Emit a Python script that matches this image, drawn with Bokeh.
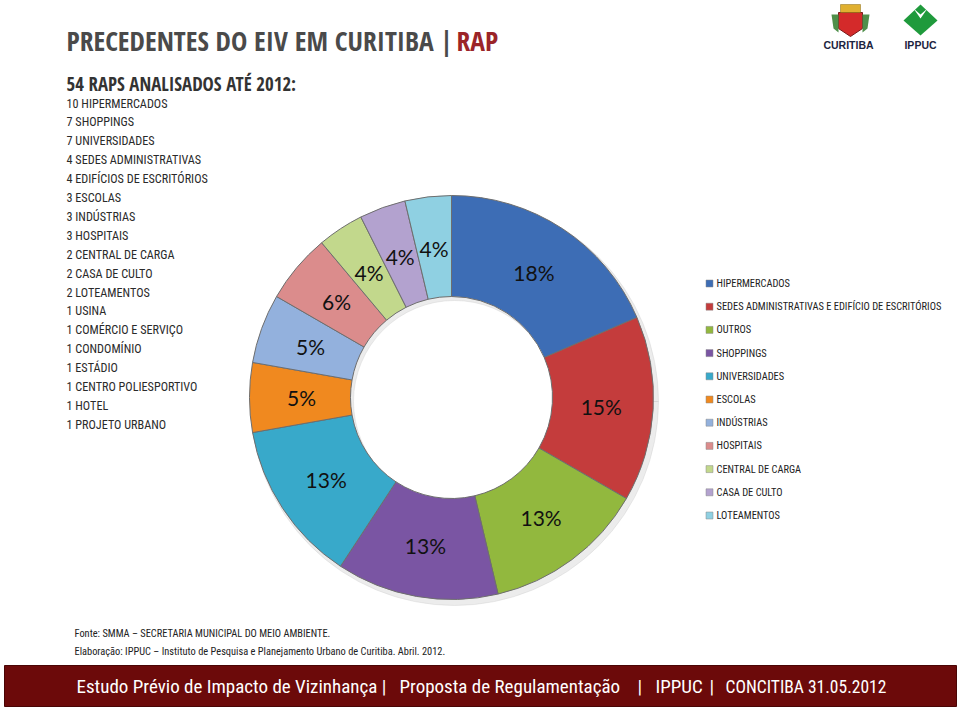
import math
from bokeh.plotting import figure
from bokeh.models import Range1d, ColumnDataSource
from bokeh.core.properties import value
from bokeh.embed import file_html
from bokeh.resources import INLINE

# ---------------- data ----------------
categories = ["HIPERMERCADOS", "SEDES ADMINISTRATIVAS E EDIFÍCIO DE ESCRITÓRIOS", "OUTROS",
              "SHOPPINGS", "UNIVERSIDADES", "ESCOLAS", "INDÚSTRIAS", "HOSPITAIS",
              "CENTRAL DE CARGA", "CASA DE CULTO", "LOTEAMENTOS"]
counts = [10, 8, 7, 7, 7, 3, 3, 3, 2, 2, 2]
pct_labels = ["18%", "15%", "13%", "13%", "13%", "5%", "5%", "6%", "4%", "4%", "4%"]
colors = ["#3d6db5", "#c43c3c", "#92b83e", "#7a55a3", "#38a9ca", "#f0891f",
          "#93b1dd", "#db8c8c", "#c2d88c", "#b3a2cf", "#8fd0e2"]

list_header = "54 RAPS ANALISADOS ATÉ 2012:"
list_items = ["10 HIPERMERCADOS", "7 SHOPPINGS", "7 UNIVERSIDADES", "4 SEDES ADMINISTRATIVAS",
              "4 EDIFÍCIOS DE ESCRITÓRIOS", "3 ESCOLAS", "3 INDÚSTRIAS", "3 HOSPITAIS",
              "2 CENTRAL DE CARGA", "2 CASA DE CULTO", "2 LOTEAMENTOS", "1 USINA",
              "1 COMÉRCIO E SERVIÇO", "1 CONDOMÍNIO", "1 ESTÁDIO", "1 CENTRO POLIESPORTIVO",
              "1 HOTEL", "1 PROJETO URBANO"]

W, H = 960, 711
def sy(y):
    return H - y

COND = value("Roboto Condensed")
COND_B = value("Open Sans Condensed")

p = figure(width=W, height=H, output_backend="svg", toolbar_location=None,
           x_range=Range1d(0, W), y_range=Range1d(0, H), min_border=0)
p.axis.visible = False
p.grid.visible = False
p.outline_line_color = None
p.background_fill_color = "white"

# ---------------- donut ----------------
total = sum(counts)
cx, cy = 451, sy(397)
r_in, r_out = 101, 202
starts, ends, lx, ly = [], [], [], []
cum = 0
for c in counts:
    a0 = math.pi / 2 - 2 * math.pi * cum / total
    a1 = math.pi / 2 - 2 * math.pi * (cum + c) / total
    starts.append(a0)
    ends.append(a1)
    mid = (a0 + a1) / 2
    lx.append(cx + 150 * math.cos(mid))
    ly.append(cy + 150 * math.sin(mid))
    cum += c

src = ColumnDataSource(dict(start=starts, end=ends, color=colors, lx=lx, ly=ly,
                            label=pct_labels, x=[cx] * len(counts), y=[cy] * len(counts)))
# soft shadow
p.annular_wedge(x=cx + 3, y=cy - 4, inner_radius=r_in, outer_radius=r_out + 2,
                start_angle=0, end_angle=2 * math.pi, color="#c8c8c8", alpha=0.35)
p.annular_wedge(x="x", y="y", inner_radius=r_in, outer_radius=r_out,
                start_angle="start", end_angle="end", direction="clock",
                fill_color="color", line_color="#6e6e6e", line_width=1, source=src)
p.text(x="lx", y="ly", text="label", source=src, text_align="center",
       text_baseline="middle", text_font=value("Lato"), text_font_size="21px",
       text_color="#111111")

# ---------------- title ----------------
p.text(x=[66], y=[sy(40)], text=["PRECEDENTES DO EIV EM CURITIBA"], text_font=COND_B,
       text_font_style="bold", text_font_size="27.5px", text_color="#4a4a4a",
       text_baseline="middle", text_align="left")
p.text(x=[446], y=[sy(40)], text=["|"], text_font=COND_B,
       text_font_style="bold", text_font_size="27.5px", text_color="#4a4a4a",
       text_baseline="middle", text_align="center")
p.text(x=[456], y=[sy(40)], text=["RAP"], text_font=COND_B,
       text_font_style="bold", text_font_size="27.5px", text_color="#9b2428",
       text_baseline="middle", text_align="left")

# ---------------- left list ----------------
p.text(x=[66], y=[sy(83)], text=[list_header], text_font=COND_B, text_font_style="bold",
       text_font_size="18.8px", text_color="#333333", text_baseline="middle")
p.text(x=[66] * len(list_items), y=[sy(103 + 18.9 * i) for i in range(len(list_items))],
       text=list_items, text_font=COND, text_font_size="12.2px", text_color="#2a2a2a",
       text_baseline="middle")

# ---------------- legend ----------------
leg_y = [sy(283 + 23.2 * i) for i in range(len(categories))]
p.rect(x=[709] * len(categories), y=leg_y, width=7, height=7, fill_color=colors,
       line_color="#888888", line_width=0.5)
p.text(x=[716] * len(categories), y=leg_y, text=categories, text_font=COND,
       text_font_size="10.4px", text_color="#222222", text_baseline="middle")

# ---------------- source ----------------
p.text(x=[74, 74], y=[sy(633), sy(651)],
       text=["Fonte: SMMA – SECRETARIA MUNICIPAL DO MEIO AMBIENTE.",
             "Elaboração: IPPUC – Instituto de Pesquisa e Planejamento Urbano de Curitiba. Abril. 2012."],
       text_font=COND, text_font_size="10.4px", text_color="#222222", text_baseline="middle")

# ---------------- footer bar ----------------
p.quad(left=[4], right=[956], bottom=[sy(706)], top=[sy(665)], fill_color="#6c0a0a",
       line_color="#4a0505", line_width=1)
foot_x = [76, 399, 637, 655, 709, 725]
foot_t = ["Estudo Prévio de Impacto de Vizinhança |", "Proposta de Regulamentação", "|",
          "IPPUC", "|", "CONCITIBA 31.05.2012"]
foot_s = ["19px", "19px", "19px", "19px", "19px", "17.5px"]
p.text(x=foot_x, y=[sy(686)] * len(foot_t), text=foot_t, text_font=COND,
       text_font_size=foot_s, text_color="#ffffff", text_baseline="middle")

# ---------------- logos ----------------
# Curitiba coat of arms (simplified)
p.patches(xs=[[838, 862, 862, 850, 838]], ys=[[sy(12), sy(12), sy(28), sy(36), sy(28)]],
          fill_color="#d42a2a", line_color="#7a1a1a", line_width=1)
p.quad(left=[840], right=[860], bottom=[sy(12)], top=[sy(4)], fill_color="#e0b030",
       line_color="#8a6a10", line_width=0.5)
p.patches(xs=[[831, 838, 838, 833], [869, 862, 862, 867]],
          ys=[[sy(14), sy(14), sy(32), sy(28)], [sy(14), sy(14), sy(32), sy(28)]],
          fill_color="#4f8f4a", line_color=None)
p.text(x=[848], y=[sy(44)], text=["CURITIBA"], text_font=value("Liberation Sans"),
       text_font_style="bold", text_font_size="10.5px", text_color="#1c2440",
       text_align="center", text_baseline="middle")
# IPPUC leaf (simplified)
p.patches(xs=[[920, 937, 920, 903], [913, 920, 927, 920]],
          ys=[[sy(4), sy(20), sy(35), sy(20)], [sy(8), sy(18), sy(8), sy(14)]],
          fill_color=["#1f9a3c", "#ffffff"], line_color=None)
p.text(x=[920], y=[sy(44)], text=["IPPUC"], text_font=value("Liberation Sans"),
       text_font_style="bold", text_font_size="10.5px", text_color="#1c2440",
       text_align="center", text_baseline="middle")

open("out.html", "w").write(file_html(p, INLINE))
